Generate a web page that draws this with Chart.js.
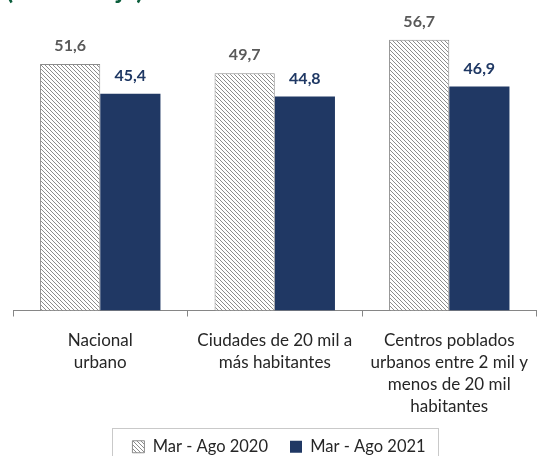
<!DOCTYPE html>
<html>
<head>
<meta charset="utf-8">
<script src="https://cdn.jsdelivr.net/npm/chart.js@4.4.1/dist/chart.umd.min.js"></script>
<style>
    html, body { margin: 0; padding: 0; background: #ffffff; overflow: hidden; }
    #chart-box { width: 541px; height: 456px; }
</style>
</head>
<body>
<div id="chart-box"><canvas id="chart-canvas" width="541" height="456"></canvas></div>
<script>
const categories = [
    ['Nacional', 'urbano'],
    ['Ciudades de 20 mil a', 'más habitantes'],
    ['Centros poblados', 'urbanos entre 2 mil y', 'menos de 20 mil', 'habitantes'],
];
const seriesNames = ['Mar - Ago 2020', 'Mar - Ago 2021'];
const values2020 = [51.6, 49.7, 56.7];
const values2021 = [45.4, 44.8, 46.9];
const titleText = '(Porcentaje)';

const FONT = 'Lato, "Open Sans", sans-serif';

function makeHatch() {
    const size = 4;
    const tile = document.createElement('canvas');
    tile.width = size;
    tile.height = size;
    const tctx = tile.getContext('2d');
    tctx.fillStyle = '#ffffff';
    tctx.fillRect(0, 0, size, size);
    tctx.strokeStyle = '#8c8c8c';
    tctx.lineWidth = 1;
    tctx.beginPath();
    tctx.moveTo(-1, -1);
    tctx.lineTo(size + 1, size + 1);
    tctx.moveTo(-1, size - 1);
    tctx.lineTo(1, size + 1);
    tctx.moveTo(size - 1, -1);
    tctx.lineTo(size + 1, 1);
    tctx.stroke();
    return tctx.createPattern(tile, 'repeat');
}

const canvas = document.getElementById('chart-canvas');
const hatch = makeHatch();

// value labels above each bar, plus the heading and legend frame
const decorations = {
    id: 'decorations',
    afterDatasetsDraw(chart) {
        const ctx = chart.ctx;
        const colors = ['#595959', '#1f3864'];
        ctx.save();
        ctx.font = `bold 16px ${FONT}`;
        ctx.textAlign = 'center';
        ctx.textBaseline = 'middle';
        chart.data.datasets.forEach((ds, di) => {
            chart.getDatasetMeta(di).data.forEach((bar, i) => {
                ctx.fillStyle = colors[di];
                ctx.fillText(ds.data[i].toFixed(1).replace('.', ','), bar.x, bar.y - 18);
            });
        });
        ctx.restore();
    },
    afterDraw(chart) {
        const ctx = chart.ctx;
        ctx.save();
        ctx.font = `bold 26px ${FONT}`;
        ctx.fillStyle = '#0b5e3c';
        ctx.textAlign = 'left';
        ctx.textBaseline = 'alphabetic';
        ctx.fillText(titleText, 6, -1);

        const boxes = chart.legend.legendHitBoxes;
        if (boxes && boxes.length) {
            const last = boxes[boxes.length - 1];
            const left = boxes[0].left - 20;
            const right = last.left + last.width + 13;
            const top = boxes[0].top + boxes[0].height / 2 - 18.5;
            ctx.strokeStyle = '#c9c9c9';
            ctx.lineWidth = 1;
            ctx.strokeRect(Math.round(left) + 0.5, Math.round(top) + 0.5, Math.round(right - left), 60);
        }
        ctx.restore();
    },
};

new Chart(canvas, {
    type: 'bar',
    data: {
        labels: categories,
        datasets: [
            {
                label: seriesNames[0],
                data: values2020,
                backgroundColor: hatch,
                borderColor: '#8c8c8c',
                borderWidth: 1,
                borderSkipped: 'bottom',
            },
            {
                label: seriesNames[1],
                data: values2021,
                backgroundColor: '#203864',
                borderColor: '#203864',
                borderWidth: 0,
            },
        ],
    },
    options: {
        responsive: false,
        animation: false,
        layout: {
            padding: { top: 24, left: 13, right: -4, bottom: -9 },
        },
        datasets: {
            bar: {
                barPercentage: 1,
                categoryPercentage: 0.69,
            },
        },
        plugins: {
            legend: {
                position: 'bottom',
                labels: {
                    font: { family: FONT, size: 16.5 },
                    color: '#262626',
                    boxWidth: 12,
                    boxHeight: 12,
                    padding: 22,
                },
            },
            tooltip: { enabled: false },
        },
        scales: {
            x: {
                afterFit(axis) {
                    axis.height = 106;
                },
                grid: {
                    offset: true,
                    drawOnChartArea: false,
                    tickLength: 6,
                    color: '#868686',
                },
                border: { color: '#868686', width: 1 },
                ticks: {
                    color: '#262626',
                    font: { family: FONT, size: 17, lineHeight: 1.3 },
                    padding: 13,
                    maxRotation: 0,
                    autoSkip: false,
                },
            },
            y: {
                display: false,
                min: 0,
                max: 60,
            },
        },
    },
    plugins: [decorations],
});
</script>
</body>
</html>
